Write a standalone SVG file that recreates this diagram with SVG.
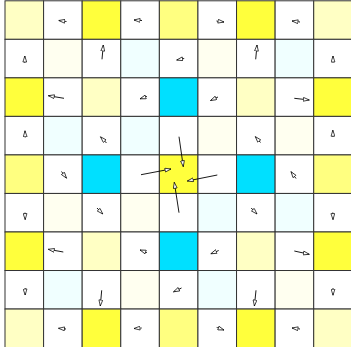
<svg xmlns="http://www.w3.org/2000/svg" width="351" height="347" viewBox="0 0 351 347">
<style>
rect{stroke:#333;stroke-width:1}
.w{fill:#ffffff}.y0{fill:#fffff0}.y1{fill:#ffffc4}.y2{fill:#ffff80}.y3{fill:#ffff3c}.c0{fill:#f0ffff}.c3{fill:#00e0ff}
line{stroke:#000;stroke-width:0.9;marker-end:url(#ah)}
</style>
<defs>
<marker id="ah" viewBox="0 0 7 5" refX="6.5" refY="2.5" markerWidth="7" markerHeight="5" markerUnits="userSpaceOnUse" orient="auto">
<path d="M0.5,0.6 L6.5,2.5 L0.5,4.4 Z" fill="#fff" stroke="#000" stroke-width="0.7"/>
</marker>
</defs>
<g id="grid">
<g id="row0">
<rect class="y1" x="5" y="0.8" width="38.59" height="38.53"/>
<rect class="w" x="43.59" y="0.8" width="38.59" height="38.53"/>
<rect class="y3" x="82.18" y="0.8" width="38.59" height="38.53"/>
<rect class="w" x="120.77" y="0.8" width="38.59" height="38.53"/>
<rect class="y2" x="159.36" y="0.8" width="38.59" height="38.53"/>
<rect class="w" x="197.95" y="0.8" width="38.59" height="38.53"/>
<rect class="y3" x="236.54" y="0.8" width="38.59" height="38.53"/>
<rect class="w" x="275.13" y="0.8" width="38.59" height="38.53"/>
<rect class="y1" x="313.72" y="0.8" width="38.59" height="38.53"/>
</g>
<g id="row1">
<rect class="w" x="5" y="39.33" width="38.59" height="38.53"/>
<rect class="y0" x="43.59" y="39.33" width="38.59" height="38.53"/>
<rect class="w" x="82.18" y="39.33" width="38.59" height="38.53"/>
<rect class="c0" x="120.77" y="39.33" width="38.59" height="38.53"/>
<rect class="w" x="159.36" y="39.33" width="38.59" height="38.53"/>
<rect class="y0" x="197.95" y="39.33" width="38.59" height="38.53"/>
<rect class="w" x="236.54" y="39.33" width="38.59" height="38.53"/>
<rect class="c0" x="275.13" y="39.33" width="38.59" height="38.53"/>
<rect class="w" x="313.72" y="39.33" width="38.59" height="38.53"/>
</g>
<g id="row2">
<rect class="y3" x="5" y="77.86" width="38.59" height="38.53"/>
<rect class="w" x="43.59" y="77.86" width="38.59" height="38.53"/>
<rect class="y1" x="82.18" y="77.86" width="38.59" height="38.53"/>
<rect class="w" x="120.77" y="77.86" width="38.59" height="38.53"/>
<rect class="c3" x="159.36" y="77.86" width="38.59" height="38.53"/>
<rect class="w" x="197.95" y="77.86" width="38.59" height="38.53"/>
<rect class="y1" x="236.54" y="77.86" width="38.59" height="38.53"/>
<rect class="w" x="275.13" y="77.86" width="38.59" height="38.53"/>
<rect class="y3" x="313.72" y="77.86" width="38.59" height="38.53"/>
</g>
<g id="row3">
<rect class="w" x="5" y="116.39" width="38.59" height="38.53"/>
<rect class="c0" x="43.59" y="116.39" width="38.59" height="38.53"/>
<rect class="w" x="82.18" y="116.39" width="38.59" height="38.53"/>
<rect class="c0" x="120.77" y="116.39" width="38.59" height="38.53"/>
<rect class="w" x="159.36" y="116.39" width="38.59" height="38.53"/>
<rect class="y0" x="197.95" y="116.39" width="38.59" height="38.53"/>
<rect class="w" x="236.54" y="116.39" width="38.59" height="38.53"/>
<rect class="y0" x="275.13" y="116.39" width="38.59" height="38.53"/>
<rect class="w" x="313.72" y="116.39" width="38.59" height="38.53"/>
</g>
<g id="row4">
<rect class="y2" x="5" y="154.92" width="38.59" height="38.53"/>
<rect class="w" x="43.59" y="154.92" width="38.59" height="38.53"/>
<rect class="c3" x="82.18" y="154.92" width="38.59" height="38.53"/>
<rect class="w" x="120.77" y="154.92" width="38.59" height="38.53"/>
<rect class="y3" x="159.36" y="154.92" width="38.59" height="38.53"/>
<rect class="w" x="197.95" y="154.92" width="38.59" height="38.53"/>
<rect class="c3" x="236.54" y="154.92" width="38.59" height="38.53"/>
<rect class="w" x="275.13" y="154.92" width="38.59" height="38.53"/>
<rect class="y2" x="313.72" y="154.92" width="38.59" height="38.53"/>
</g>
<g id="row5">
<rect class="w" x="5" y="193.45" width="38.59" height="38.53"/>
<rect class="y0" x="43.59" y="193.45" width="38.59" height="38.53"/>
<rect class="w" x="82.18" y="193.45" width="38.59" height="38.53"/>
<rect class="y0" x="120.77" y="193.45" width="38.59" height="38.53"/>
<rect class="w" x="159.36" y="193.45" width="38.59" height="38.53"/>
<rect class="c0" x="197.95" y="193.45" width="38.59" height="38.53"/>
<rect class="w" x="236.54" y="193.45" width="38.59" height="38.53"/>
<rect class="c0" x="275.13" y="193.45" width="38.59" height="38.53"/>
<rect class="w" x="313.72" y="193.45" width="38.59" height="38.53"/>
</g>
<g id="row6">
<rect class="y3" x="5" y="231.98" width="38.59" height="38.53"/>
<rect class="w" x="43.59" y="231.98" width="38.59" height="38.53"/>
<rect class="y1" x="82.18" y="231.98" width="38.59" height="38.53"/>
<rect class="w" x="120.77" y="231.98" width="38.59" height="38.53"/>
<rect class="c3" x="159.36" y="231.98" width="38.59" height="38.53"/>
<rect class="w" x="197.95" y="231.98" width="38.59" height="38.53"/>
<rect class="y1" x="236.54" y="231.98" width="38.59" height="38.53"/>
<rect class="w" x="275.13" y="231.98" width="38.59" height="38.53"/>
<rect class="y3" x="313.72" y="231.98" width="38.59" height="38.53"/>
</g>
<g id="row7">
<rect class="w" x="5" y="270.51" width="38.59" height="38.53"/>
<rect class="c0" x="43.59" y="270.51" width="38.59" height="38.53"/>
<rect class="w" x="82.18" y="270.51" width="38.59" height="38.53"/>
<rect class="y0" x="120.77" y="270.51" width="38.59" height="38.53"/>
<rect class="w" x="159.36" y="270.51" width="38.59" height="38.53"/>
<rect class="c0" x="197.95" y="270.51" width="38.59" height="38.53"/>
<rect class="w" x="236.54" y="270.51" width="38.59" height="38.53"/>
<rect class="y0" x="275.13" y="270.51" width="38.59" height="38.53"/>
<rect class="w" x="313.72" y="270.51" width="38.59" height="38.53"/>
</g>
<g id="row8">
<rect class="y1" x="5" y="309.04" width="38.59" height="38.53"/>
<rect class="w" x="43.59" y="309.04" width="38.59" height="38.53"/>
<rect class="y3" x="82.18" y="309.04" width="38.59" height="38.53"/>
<rect class="w" x="120.77" y="309.04" width="38.59" height="38.53"/>
<rect class="y2" x="159.36" y="309.04" width="38.59" height="38.53"/>
<rect class="w" x="197.95" y="309.04" width="38.59" height="38.53"/>
<rect class="y3" x="236.54" y="309.04" width="38.59" height="38.53"/>
<rect class="w" x="275.13" y="309.04" width="38.59" height="38.53"/>
<rect class="y1" x="313.72" y="309.04" width="38.59" height="38.53"/>
</g>
</g>
<g id="arrows">
<line x1="66.5" y1="21.5" x2="58.8" y2="20.5"/>
<line x1="142" y1="20.5" x2="134" y2="20"/>
<line x1="216.5" y1="21" x2="224" y2="22"/>
<line x1="300" y1="22" x2="292" y2="21"/>
<line x1="24.8" y1="62.8" x2="24.8" y2="56"/>
<line x1="102" y1="59.3" x2="103.3" y2="45"/>
<line x1="184.2" y1="58.5" x2="176.7" y2="60"/>
<line x1="255.7" y1="59.3" x2="257" y2="45"/>
<line x1="333" y1="62.5" x2="333" y2="56"/>
<line x1="64" y1="98.3" x2="48.3" y2="95.7"/>
<line x1="147" y1="96.5" x2="140" y2="98.8"/>
<line x1="218" y1="97" x2="210.5" y2="100.5"/>
<line x1="294.3" y1="98.3" x2="309.3" y2="100"/>
<line x1="25.2" y1="137.5" x2="25" y2="130.8"/>
<line x1="106.5" y1="143" x2="100.5" y2="136.8"/>
<line x1="260.5" y1="142.5" x2="255.3" y2="136.6"/>
<line x1="333" y1="137" x2="332.8" y2="130.2"/>
<line x1="61.5" y1="171.5" x2="66.5" y2="178.2"/>
<line x1="141" y1="174.7" x2="171" y2="169"/>
<line x1="179" y1="136.7" x2="183.3" y2="166.7"/>
<line x1="217.3" y1="175" x2="187.3" y2="181"/>
<line x1="179" y1="212.7" x2="174.3" y2="182.3"/>
<line x1="296" y1="178.5" x2="291" y2="171.7"/>
<line x1="25" y1="212.6" x2="25.2" y2="219.6"/>
<line x1="97" y1="208" x2="102.8" y2="214"/>
<line x1="251.2" y1="208" x2="257" y2="214"/>
<line x1="332.8" y1="212.5" x2="333" y2="219.6"/>
<line x1="63.3" y1="252" x2="48.3" y2="249.3"/>
<line x1="147" y1="252.5" x2="140" y2="250"/>
<line x1="218.7" y1="250.5" x2="210.8" y2="253.8"/>
<line x1="294.3" y1="251" x2="309.3" y2="254.3"/>
<line x1="25" y1="288" x2="25.2" y2="295"/>
<line x1="101.7" y1="290.3" x2="100.3" y2="306"/>
<line x1="181.5" y1="288" x2="173.5" y2="291.8"/>
<line x1="256" y1="290.3" x2="254.4" y2="306"/>
<line x1="333" y1="288" x2="333" y2="295.2"/>
<line x1="66" y1="329" x2="58.5" y2="328.3"/>
<line x1="141.7" y1="328" x2="134" y2="328.5"/>
<line x1="216.7" y1="327.5" x2="224" y2="330"/>
<line x1="300" y1="329" x2="292" y2="328"/>
</g>
</svg>
